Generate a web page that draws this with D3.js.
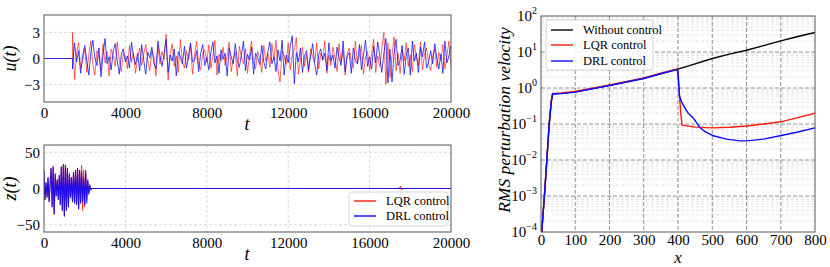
<!DOCTYPE html>
<html>
<head>
<meta charset="utf-8">
<script src="https://cdn.jsdelivr.net/npm/d3@7"></script>
<style>
  body { margin: 0; background: #fff; }
</style>
</head>
<body>
<script>
// ---- data: control input u(t), sampled every 100 from t = 1400 (zero before) ----
var uStart = 1400, uStep = 100;
var uLQR = [3.0, -2.4, 0.6, 1.8, -1.1, -0.3,
  1.2, -1.6, 0.4, 2.0, -0.7, -1.9, 0.9, 0.1, -1.3, 1.7,
  -0.5, 0.8, -2.0, 1.1, 0.3, -0.9, 1.9, -0.2, -1.5, 0.6,
  0.2, -1.2, 1.5, -0.4, 0.7, -1.7, 0.1, 1.2, -0.8, 0.5,
  1.6, -0.3, -1.4, 0.9, 0.2, -2.0, 1.4, -0.6, 0.8, -0.1,
  2.8, -2.5, 0.5, 1.7, -0.9, 0.3, -1.6, 2.2, -0.4, -1.1,
  0.9, -0.2, 1.5, -1.8, 0.4, 2.0, -0.7, -1.3, 0.6, 1.0,
  -0.4, 1.6, -1.1, 0.2, 2.1, -1.9, 0.5, -0.3, 1.3, -0.8,
  0.3, 1.9, -1.5, -0.1, 0.7, -2.0, 1.4, 0.2, -0.6, 1.1,
  -1.7, 0.4, 2.0, -0.5, -1.2, 0.8, 0.1, -1.6, 1.5, -0.3,
  0.6, -1.0, 1.7, -0.2, 2.1, -1.4, -2.7, 0.9, 0.3, -0.7,
  1.8, -1.3, 0.4, 0.9, 2.4, -1.8, -0.2, 1.3, -0.9, 0.5,
  -1.6, 1.1, 0.2, -0.5, 1.8, -1.2, 0.6, -0.1, 2.0, -1.7,
  0.4, -0.8, 1.3, 0.1, -1.5, 1.7, -0.4, 0.9, -1.9, 0.6,
  1.2, -0.3, -1.1, 2.0, -0.6, 0.3, 1.5, -1.8, 0.2, 0.8,
  -1.4, 0.5, 2.2, -1.6, 0.3, -0.9, 1.1, 3.0, -3.0, 1.8,
  -2.2, 0.2, 2.5, -1.4, 0.6, -1.7, 1.0, -0.3, 1.8, -0.9,
  0.4, -1.5, 1.6, 0.2, -0.8, 1.9, -1.3, 0.5, 1.2, -0.6,
  -1.4, 0.3, 1.1, -1.0, 0.7, -0.2, 1.6, -1.2, 0.4, 2.0,
  -1.0];
var uDRL = [-1.2, 1.8, -0.4, 0.9, -1.7, 0.3,
  1.5, -0.2, -1.9, 0.6, 2.1, 0.1, -0.8, 1.2, -2.1, 0.4,
  2.3, -0.6, 0.2, -1.3, 0.8, 1.7, -0.3, -1.8, 0.5, 1.1,
  -0.4, 0.3, -1.1, 1.9, 0.2, -0.7, 0.6, -1.4, 1.6, -0.2,
  -1.8, 0.7, 0.1, 1.3, -0.5, -1.2, 2.0, 0.3, -0.9, 0.5,
  2.2, -1.6, 0.4, -0.3, 1.1, -2.0, 0.8, 0.2, -0.6, 1.4,
  -1.1, 0.3, 1.8, -0.4, -0.2, 0.9, -1.5, 0.6, 1.6, -0.8,
  0.1, -1.3, 0.7, 1.9, -0.5, 0.3, -1.7, 1.0, -0.1, 0.6,
  -2.0, 1.2, 0.2, -0.6, 1.7, -0.3, -1.0, 0.4, 2.0, -1.4,
  0.5, -0.2, 1.3, -1.8, 0.6, 0.1, -0.7, 1.5, -0.4, -1.2,
  0.8, 1.9, -0.6, 0.2, -1.5, 1.0, -0.3, 2.1, -1.9, 0.4,
  -0.5, 1.4, 2.6, -2.9, 0.7, -0.4, 1.2, -1.6, 0.3, 0.9,
  -1.3, 0.2, 1.7, -0.6, -1.9, 0.5, 1.1, -0.2, 0.6, -1.4,
  1.8, -0.3, 0.4, -1.1, 1.3, 0.1, -0.8, 2.0, -1.5, 0.3,
  0.7, -1.7, 1.2, -0.2, -0.6, 1.6, -1.3, 0.4, 2.1, -0.9,
  0.2, -1.2, 1.4, -0.5, 1.9, 0.3, -1.6, 0.6, 2.3, -2.8,
  1.1, -2.7, 0.5, 2.2, -0.8, -0.2, 1.5, -1.8, 0.4, 1.2,
  -1.9, 2.0, -0.3, 0.6, -1.6, 1.3, 0.2, 1.9, -1.1, -0.4,
  0.9, -0.6, 1.7, 0.1, -1.2, 0.5, -1.7, 2.0, -0.5, 0.3,
  1.5];

// ---- data: state z(t), sampled every 50 from t = 0 up to 2400, then flat ----
var zStep = 50;
var zDRL = [25, -15, 8, -12, 15, -18, 5, 28, -25, 30,
  -35, 20, -10, 12, -15, 18, -22, 30, -30, 33,
  -38, 32, -30, 28, -25, 20, -12, 15, -18, 22,
  -20, 25, -22, 28, -28, 25, -20, 22, -18, 15,
  -22, 25, -20, 12, -8, 5, -2, 0, 0];
var zLQR = [25, -15, 8, -12, 15, -18, 5, 28, -25, 30,
  -35, 20, -10, 12, -15, 18, -22, 30, -30, 33,
  -38, 32, -30, 28, -25, 20, -12, 15, -18, 22,
  -20, 25, -22, 28, -28, 25, -20, 32, -30, 25,
  -25, 20, -15, 10, -6, 4, -1, 0, 0];
var zLQRTailT = [17450, 17520, 17570, 17620, 20000];
var zLQRTail  = [0, 2.5, -1.5, 0, 0];

// ---- data: RMS perturbation velocity along x ----
var noCtrlX = [2, 10, 17, 24, 30, 34, 40, 60, 100, 150, 200, 250, 300, 350, 400, 450, 500, 550, 600, 650, 700, 750, 800];
var noCtrlY = [1e-4, 1e-3, 1e-2, 0.1, 0.42, 0.69, 0.69, 0.71, 0.78, 0.96, 1.18, 1.48, 1.85, 2.5, 3.34, 4.7, 6.6, 8.7, 11.2, 15.0, 20.4, 27.0, 35.0];
var lqrX = [2, 10, 17, 24, 30, 34, 40, 60, 100, 150, 200, 250, 300, 350, 398, 403, 408, 412, 450, 500, 550, 600, 650, 700, 750, 800];
var lqrY = [1e-4, 1e-3, 1e-2, 0.1, 0.43, 0.71, 0.71, 0.73, 0.8, 0.99, 1.22, 1.53, 1.91, 2.58, 3.4, 1.0, 0.2, 0.093, 0.082, 0.078, 0.081, 0.088, 0.1, 0.115, 0.15, 0.2];
var drlX = [2, 10, 17, 24, 30, 34, 40, 60, 100, 150, 200, 250, 300, 350, 399, 401, 404, 410, 420, 430, 445, 464, 480, 503, 542, 580, 600, 650, 698, 750, 800];
var drlY = [1e-4, 1e-3, 1e-2, 0.1, 0.42, 0.69, 0.69, 0.7, 0.77, 0.95, 1.17, 1.47, 1.84, 2.48, 3.3, 2.0, 0.62, 0.42, 0.28, 0.2, 0.145, 0.08, 0.06, 0.047, 0.038, 0.034, 0.034, 0.038, 0.047, 0.06, 0.078];

var tTicks = [0, 4000, 8000, 12000, 16000, 20000];
var rmsXTicks = [0, 100, 200, 300, 400, 500, 600, 700, 800];
var rmsYTicks = [1e-4, 1e-3, 1e-2, 1e-1, 1, 10, 100];

var RED = "#ff1a0a", BLUE = "#0a0aff";
var FONT = "Liberation Serif";

var svg = d3.select("body").append("svg")
  .attr("width", 830).attr("height", 267);

function seriesFromStep(vals, start, step) {
  return vals.map(function(v, i) { return [start + i * step, v]; });
}

// one of the two time-series panels on the left
function timePanel(id, top, bottom, yDomain, yTicks, yLabel, series) {
  var x = d3.scaleLinear().domain([0, 20000]).range([44, 451]);
  var y = d3.scaleLinear().domain(yDomain).range([bottom, top]);

  var g = svg.append("g").attr("class", id);

  g.append("clipPath").attr("id", "clip-" + id)
    .append("rect").attr("x", 44).attr("y", top).attr("width", 407).attr("height", bottom - top);

  // grid
  g.selectAll(".vgrid").data(tTicks.slice(1, -1)).enter().append("line")
    .attr("x1", function(d) { return x(d); }).attr("x2", function(d) { return x(d); })
    .attr("y1", top).attr("y2", bottom)
    .attr("stroke", "#d0d0d0").attr("stroke-width", 0.8).attr("stroke-dasharray", "3,2");
  g.selectAll(".hgrid").data(yTicks).enter().append("line")
    .attr("x1", 44).attr("x2", 451)
    .attr("y1", function(d) { return y(d); }).attr("y2", function(d) { return y(d); })
    .attr("stroke", "#d0d0d0").attr("stroke-width", 0.8).attr("stroke-dasharray", "3,2");

  var line = d3.line().x(function(d) { return x(d[0]); }).y(function(d) { return y(d[1]); });
  var lines = g.append("g").attr("clip-path", "url(#clip-" + id + ")");
  series.forEach(function(s) {
    lines.append("path").datum(s.pts)
      .attr("d", line).attr("fill", "none")
      .attr("stroke", s.color).attr("stroke-width", s.w)
      .attr("stroke-opacity", s.op).attr("stroke-linejoin", "round");
  });

  g.append("rect").attr("x", 44).attr("y", top).attr("width", 407).attr("height", bottom - top)
    .attr("fill", "none").attr("stroke", "#555").attr("stroke-width", 1);

  var xAxis = d3.axisBottom(x).tickValues(tTicks).tickSize(0).tickPadding(5).tickFormat(d3.format("d"));
  var ax = g.append("g").attr("transform", "translate(0," + bottom + ")").call(xAxis);
  ax.select(".domain").remove();
  ax.selectAll("text").attr("font-family", FONT).attr("font-size", 15);

  var yAxis = d3.axisLeft(y).tickValues(yTicks).tickSize(0).tickPadding(4)
    .tickFormat(function(d) { return d < 0 ? "\u2212" + Math.abs(d) : d; });
  var ay = g.append("g").attr("transform", "translate(44,0)").call(yAxis);
  ay.select(".domain").remove();
  ay.selectAll("text").attr("font-family", FONT).attr("font-size", 15);

  g.append("text").attr("x", 247).attr("y", bottom + 28)
    .attr("text-anchor", "middle").attr("font-family", FONT).attr("font-size", 18)
    .attr("font-style", "italic").text("t");
  g.append("text").attr("transform", "translate(16," + ((top + bottom) / 2) + ") rotate(-90)")
    .attr("text-anchor", "middle").attr("font-family", FONT).attr("font-size", 18)
    .attr("font-style", "italic").text(yLabel);
  return g;
}

var uLQRpts = [[0, 0], [1399, 0]].concat(seriesFromStep(uLQR, uStart, uStep));
var uDRLpts = [[0, 0], [1399, 0]].concat(seriesFromStep(uDRL, uStart, uStep));
timePanel("u", 15, 102, [-5, 5], [-3, 0, 3], "u(t)", [
  {pts: uLQRpts, color: RED, op: 0.65, w: 1.0},
  {pts: uDRLpts, color: BLUE, op: 0.75, w: 1.0}
]);

var zLQRpts = seriesFromStep(zLQR, 0, zStep).concat(zLQRTailT.map(function(t, i) { return [t, zLQRTail[i]]; }));
var zDRLpts = seriesFromStep(zDRL, 0, zStep).concat([[20000, 0]]);
var zPanel = timePanel("z", 145, 232, [-60, 60], [-50, 0, 50], "z(t)", [
  {pts: zLQRpts, color: RED, op: 0.9, w: 1.1},
  {pts: zDRLpts, color: BLUE, op: 0.9, w: 1.1}
]);

// legend box
function legend(g, x0, y0, w, h, items) {
  var lg = g.append("g").attr("transform", "translate(" + x0 + "," + y0 + ")");
  lg.append("rect").attr("width", w).attr("height", h).attr("rx", 3)
    .attr("fill", "#fff").attr("fill-opacity", 0.9).attr("stroke", "#ccc").attr("stroke-width", 0.8);
  items.forEach(function(it) {
    lg.append("line").attr("x1", 5).attr("x2", 27).attr("y1", it.y).attr("y2", it.y)
      .attr("stroke", it.color).attr("stroke-width", 1.4);
    lg.append("text").attr("x", 37).attr("y", it.y + 4)
      .attr("font-family", FONT).attr("font-size", 12.5).text(it.label);
  });
}
legend(zPanel, 349, 192, 99, 34, [
  {label: "LQR control", color: RED, y: 9},
  {label: "DRL control", color: BLUE, y: 24}
]);

// ---- right panel: RMS perturbation velocity, log scale ----
var rx = d3.scaleLinear().domain([0, 800]).range([541, 815]);
var ry = d3.scaleLog().domain([1e-4, 1e2]).range([232, 16]);
var rg = svg.append("g").attr("class", "rms");

rg.append("clipPath").attr("id", "clip-rms")
  .append("rect").attr("x", 541).attr("y", 16).attr("width", 274).attr("height", 216);

var minorY = [];
rmsYTicks.slice(0, -1).forEach(function(p) {
  for (var k = 2; k < 10; k++) minorY.push(p * k);
});
rg.selectAll(".mgrid").data(minorY).enter().append("line")
  .attr("x1", 541).attr("x2", 815)
  .attr("y1", function(d) { return ry(d); }).attr("y2", function(d) { return ry(d); })
  .attr("stroke", "#d8d8d8").attr("stroke-width", 0.7).attr("stroke-dasharray", "3,2");
rg.selectAll(".hgrid").data(rmsYTicks.slice(1, -1)).enter().append("line")
  .attr("x1", 541).attr("x2", 815)
  .attr("y1", function(d) { return ry(d); }).attr("y2", function(d) { return ry(d); })
  .attr("stroke", "#777").attr("stroke-width", 0.8).attr("stroke-dasharray", "4,2");
rg.selectAll(".vgrid").data(rmsXTicks.slice(1, -1)).enter().append("line")
  .attr("x1", function(d) { return rx(d); }).attr("x2", function(d) { return rx(d); })
  .attr("y1", 16).attr("y2", 232)
  .attr("stroke", "#777").attr("stroke-width", 0.8).attr("stroke-dasharray", "4,2");

var rline = d3.line().x(function(d) { return rx(d[0]); }).y(function(d) { return ry(d[1]); });
function zip(xs, ys) { return xs.map(function(v, i) { return [v, ys[i]]; }); }
var rmsSeries = [
  {label: "Without control", color: "#000", pts: zip(noCtrlX, noCtrlY)},
  {label: "LQR control", color: RED, pts: zip(lqrX, lqrY)},
  {label: "DRL control", color: BLUE, pts: zip(drlX, drlY)}
];
var rl = rg.append("g").attr("clip-path", "url(#clip-rms)");
rmsSeries.forEach(function(s) {
  rl.append("path").datum(s.pts).attr("d", rline)
    .attr("fill", "none").attr("stroke", s.color).attr("stroke-width", 1.4)
    .attr("stroke-linejoin", "round");
});

rg.append("rect").attr("x", 541).attr("y", 16).attr("width", 274).attr("height", 216)
  .attr("fill", "none").attr("stroke", "#555").attr("stroke-width", 1);

var rxAxis = d3.axisBottom(rx).tickValues(rmsXTicks).tickSize(0).tickPadding(2).tickFormat(d3.format("d"));
var rax = rg.append("g").attr("transform", "translate(0,232)").call(rxAxis);
rax.select(".domain").remove();
rax.selectAll("text").attr("font-family", FONT).attr("font-size", 15);

// log ticks as 10 with superscript
rg.selectAll(".ylab").data(rmsYTicks).enter().append("text")
  .attr("x", 537).attr("y", function(d) { return ry(d) + 5; })
  .attr("text-anchor", "end").attr("font-family", FONT).attr("font-size", 15)
  .each(function(d) {
    var e = Math.round(Math.log10(d));
    var t = d3.select(this);
    t.append("tspan").text("10");
    t.append("tspan").attr("dy", -7).attr("font-size", 10).text(e < 0 ? "\u2212" + Math.abs(e) : e);
  });

rg.append("text").attr("x", 678).attr("y", 263).attr("text-anchor", "middle")
  .attr("font-family", FONT).attr("font-size", 17).attr("font-style", "italic").text("x");
rg.append("text").attr("transform", "translate(510,120) rotate(-90)").attr("text-anchor", "middle")
  .attr("font-family", FONT).attr("font-size", 17.5).attr("font-style", "italic")
  .text("RMS perturbation velocity");

legend(rg, 546, 20, 107, 50, [
  {label: "Without control", color: "#000", y: 10},
  {label: "LQR control", color: RED, y: 25},
  {label: "DRL control", color: BLUE, y: 41}
]);
</script>
</body>
</html>
